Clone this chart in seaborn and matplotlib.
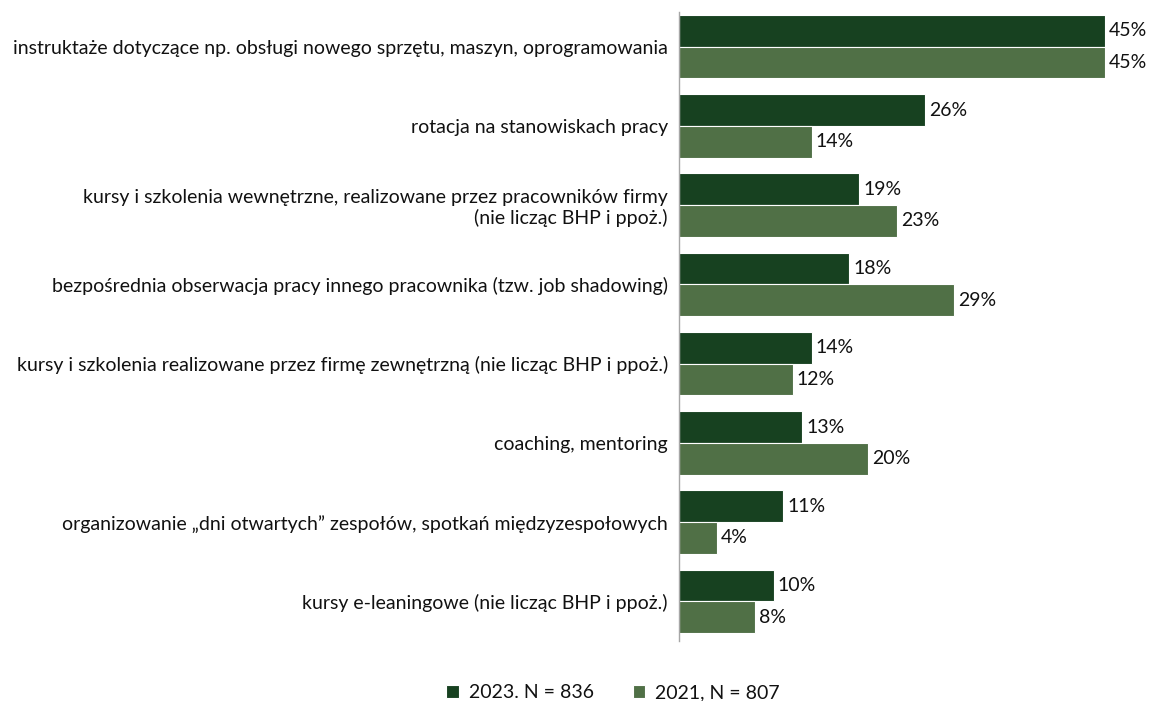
import matplotlib
matplotlib.use("Agg")
import matplotlib.pyplot as plt
import seaborn as sns
import pandas as pd

categories = [
    "instruktaże dotyczące np. obsługi nowego sprzętu, maszyn, oprogramowania",
    "rotacja na stanowiskach pracy",
    "kursy i szkolenia wewnętrzne, realizowane przez pracowników firmy\n(nie licząc BHP i ppoż.)",
    "bezpośrednia obserwacja pracy innego pracownika (tzw. job shadowing)",
    "kursy i szkolenia realizowane przez firmę zewnętrzną (nie licząc BHP i ppoż.)",
    "coaching, mentoring",
    "organizowanie „dni otwartych” zespołów, spotkań międzyzespołowych",
    "kursy e-leaningowe (nie licząc BHP i ppoż.)",
]
series_names = ["2023. N = 836", "2021, N = 807"]
values_2023 = [45, 26, 19, 18, 14, 13, 11, 10]
values_2021 = [45, 14, 23, 29, 12, 20, 4, 8]
colors = ["#10481c", "#4c773f"]

df = pd.DataFrame({
    "kategoria": categories * 2,
    "seria": [series_names[0]] * len(categories) + [series_names[1]] * len(categories),
    "wartosc": values_2023 + values_2021,
})

sns.set_theme(style="white")
plt.rcParams["font.family"] = ["Lato", "DejaVu Sans"]

fig = plt.figure(figsize=(11.49, 7.01), dpi=100)
ax = fig.add_axes([679 / 1149, 1 - 641 / 701, 426 / 1149, 634 / 701])

sns.barplot(data=df, y="kategoria", x="wartosc", hue="seria", order=categories,
            hue_order=series_names, palette=colors, orient="h", width=0.8,
            edgecolor="white", linewidth=0.8, ax=ax, legend=True)

for cont in ax.containers:
    ax.bar_label(cont, labels=[f"{v:.0f}%" for v in cont.datavalues],
                 padding=3, fontsize=14, color="#111111")

ax.set_xlim(0, 45)
ax.set_ylim(len(categories) - 0.5, -0.5)
ax.set_xlabel("")
ax.set_ylabel("")
ax.set_xticks([])
ax.tick_params(axis="y", length=0, pad=8, labelsize=14, labelcolor="#111111")
for s in ["top", "right", "bottom"]:
    ax.spines[s].set_visible(False)
ax.spines["left"].set_color("#a6a6a6")
ax.spines["left"].set_linewidth(1)
ax.spines["left"].set_bounds(len(categories) - 0.5, -0.44)

leg = ax.legend(loc="center", bbox_to_anchor=(613 / 1149, 1 - 693 / 701),
                bbox_transform=fig.transFigure, ncol=2, frameon=False,
                fontsize=14, handlelength=0.65, handleheight=0.65,
                handletextpad=0.5, columnspacing=2.0)
for t in leg.get_texts():
    t.set_color("#111111")

fig.savefig("out.png", dpi=100)
